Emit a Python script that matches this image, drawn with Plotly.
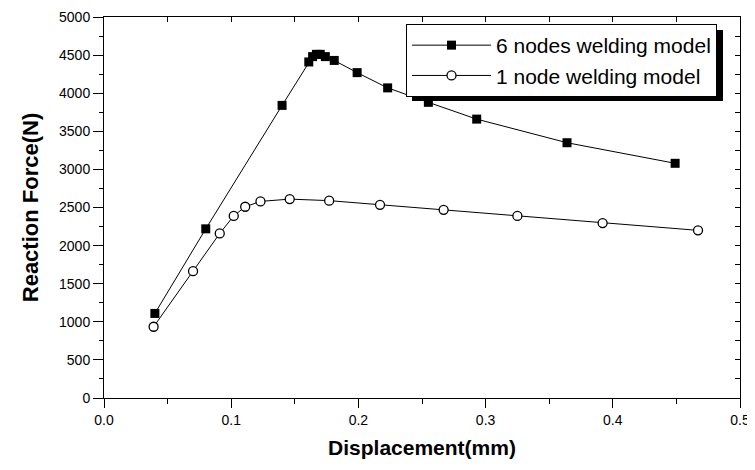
import plotly.graph_objects as go

# Data
x_six = [0.040, 0.080, 0.140, 0.161, 0.164, 0.167, 0.170, 0.174, 0.181, 0.199, 0.223, 0.255, 0.293, 0.364, 0.449]
y_six = [1110, 2220, 3840, 4410, 4480, 4510, 4510, 4480, 4430, 4270, 4070, 3880, 3660, 3350, 3080]

x_one = [0.039, 0.070, 0.091, 0.102, 0.111, 0.123, 0.146, 0.177, 0.217, 0.267, 0.325, 0.392, 0.467]
y_one = [935, 1665, 2160, 2390, 2510, 2580, 2610, 2590, 2535, 2470, 2390, 2295, 2200]

name_six = "6 nodes welding model"
name_one = "1 node welding model"

x_ticks = [0.0, 0.1, 0.2, 0.3, 0.4, 0.5]
x_ticklabels = ["0.0", "0.1", "0.2", "0.3", "0.4", "0.5"]
y_ticks = [0, 500, 1000, 1500, 2000, 2500, 3000, 3500, 4000, 4500, 5000]

FONT = "Liberation Sans, Arial, sans-serif"

fig = go.Figure()
fig.add_trace(go.Scatter(
    x=x_six, y=y_six, name=name_six, mode="lines+markers",
    line=dict(color="black", width=1),
    marker=dict(symbol="square", size=9, color="black", line=dict(color="black", width=0)),
))
fig.add_trace(go.Scatter(
    x=x_one, y=y_one, name=name_one, mode="lines+markers",
    line=dict(color="black", width=1),
    marker=dict(symbol="circle", size=9, color="white", line=dict(color="black", width=1.3)),
))
# dummy trace to activate mirrored axes (top/right) with inside ticks
fig.add_trace(go.Scatter(x=[], y=[], xaxis="x2", yaxis="y2", showlegend=False, hoverinfo="skip"))

# page has an 8px body margin: figure origin sits at (8, 8) on the page
OFF = 8
W, H = 755 - OFF, 470 - OFF
L, R, T, B = 104 - OFF, 15, 17 - OFF, 72
pw, ph = W - L - R, H - T - B

def px2paper_x(px):
    return (px - OFF - L) / pw

def px2paper_y(py):
    return (H - B - (py - OFF)) / ph

fig.update_layout(
    width=W, height=H,
    margin=dict(l=L, r=R, t=T, b=B, autoexpand=False),
    paper_bgcolor="white", plot_bgcolor="white",
    font=dict(family=FONT, color="black"),
    showlegend=True,
    legend=dict(
        x=px2paper_x(406), y=px2paper_y(24), xanchor="left", yanchor="top",
        bgcolor="white", bordercolor="black", borderwidth=1,
        font=dict(size=21, family=FONT, color="black"),
        tracegroupgap=0, itemwidth=79,
    ),
    xaxis=dict(
        range=[0, 0.5], tickvals=x_ticks, ticktext=x_ticklabels,
        showgrid=False, zeroline=False,
        showline=True, linecolor="black", linewidth=1,
        ticks="outside", ticklen=9, tickwidth=1, tickcolor="black",
        minor=dict(dtick=0.05, ticks="outside", ticklen=5, tickwidth=1, tickcolor="black", showgrid=False),
        tickfont=dict(size=14, family=FONT), ticklabeloverflow="allow",
        title=dict(text="<b>Displacement(mm)</b>", font=dict(size=21, family=FONT), standoff=13),
    ),
    yaxis=dict(
        range=[0, 5000], tickvals=y_ticks,
        showgrid=False, zeroline=False,
        showline=True, linecolor="black", linewidth=1,
        ticks="outside", ticklen=10, tickwidth=1, tickcolor="black",
        minor=dict(dtick=250, ticks="outside", ticklen=4, tickwidth=1, tickcolor="black", showgrid=False),
        tickfont=dict(size=14, family=FONT), ticklabeloverflow="allow",
        title=dict(text="<b>Reaction Force(N)</b>", font=dict(size=22, family=FONT), standoff=14),
    ),
    xaxis2=dict(
        overlaying="x", side="top", range=[0, 0.5], dtick=0.05,
        showgrid=False, zeroline=False, showticklabels=False,
        showline=True, linecolor="black", linewidth=1,
        ticks="inside", ticklen=5, tickwidth=1, tickcolor="black",
    ),
    yaxis2=dict(
        overlaying="y", side="right", range=[0, 5000], dtick=250,
        showgrid=False, zeroline=False, showticklabels=False,
        showline=True, linecolor="black", linewidth=1,
        ticks="inside", ticklen=5, tickwidth=1, tickcolor="black",
    ),
    shapes=[dict(
        type="rect", xref="paper", yref="paper",
        x0=px2paper_x(412), x1=px2paper_x(723),
        y0=px2paper_y(101), y1=px2paper_y(30),
        fillcolor="black", line=dict(width=0), layer="above",
    )],
)

fig.write_html("out.html")
